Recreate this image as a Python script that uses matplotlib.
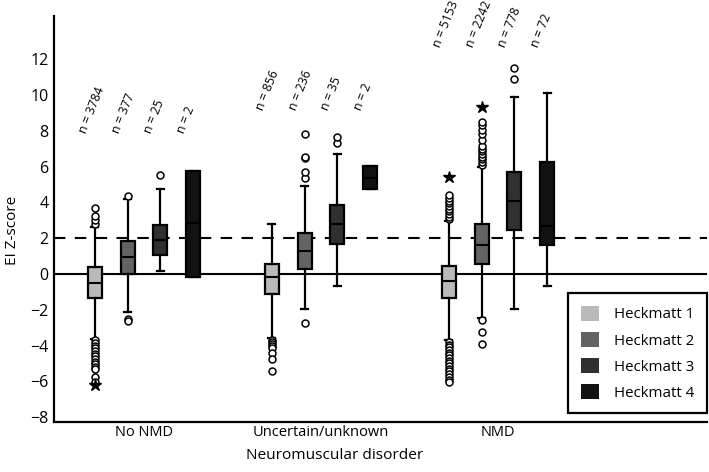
"""EI Z-score per Heckmatt grade, split by neuromuscular disorder status."""

import matplotlib

matplotlib.use("Agg")  # Headless rendering
import matplotlib.pyplot as plt
from matplotlib.patches import Patch

# ---- data ----
groups = ["No NMD", "Uncertain/unknown", "NMD"]
grades = ["Heckmatt 1", "Heckmatt 2", "Heckmatt 3", "Heckmatt 4"]
colors = ["#bababa", "#636363", "#303030", "#121212"]

n_counts = [[3784, 377, 25, 2], [856, 236, 35, 2], [5153, 2242, 778, 72]]

q1 = [[-1.36, 0.0, 1.06, -0.15], [-1.13, 0.30, 1.68, 4.73], [-1.32, 0.54, 2.46, 1.62]]
medians = [[-0.48, 0.97, 1.90, 2.83], [-0.19, 1.28, 2.79, 5.38], [-0.39, 1.64, 4.10, 2.70]]
q3 = [[0.37, 1.84, 2.74, 5.75], [0.56, 2.31, 3.85, 6.03], [0.47, 2.79, 5.72, 6.27]]
whisker_lo = [[-3.65, -2.14, 0.18, -0.15], [-3.60, -1.97, -0.65, 4.73], [-3.70, -2.48, -1.97, -0.67]]
whisker_hi = [[2.64, 4.20, 4.75, 5.75], [2.79, 4.93, 6.70, 6.03], [2.95, 6.00, 9.90, 10.09]]

fliers = [
    [
        [2.78, 3.02, 3.26, 3.67, -3.70, -3.85, -4.00, -4.15, -4.30, -4.45, -4.60,
         -4.75, -4.90, -5.05, -5.20, -5.30, -5.74, -6.01],
        [4.36, -2.50, -2.61],
        [5.53],
        [],
    ],
    [
        [-3.70, -3.80, -3.90, -4.00, -4.15, -4.43, -4.75, -5.42],
        [5.34, 5.72, 6.46, 6.55, 7.82, -2.72],
        [7.30, 7.67],
        [],
    ],
    [
        [3.05, 3.20, 3.35, 3.50, 3.65, 3.80, 3.95, 4.10, 4.25, 4.40,
         -3.80, -3.95, -4.10, -4.25, -4.40, -4.55, -4.70, -4.85, -5.00,
         -5.15, -5.30, -5.45, -5.60, -5.75, -5.90, -6.05],
        [6.10, 6.25, 6.40, 6.55, 6.70, 6.85, 7.00, 7.15, 7.50, 7.80, 8.05,
         8.30, 8.50, -2.57, -3.22, -3.93],
        [10.90, 11.50],
        [],
    ],
]

# extreme values drawn as stars: (group, grade, value)
extremes = [(0, 0, -6.20), (2, 0, 5.44), (2, 1, 9.35)]

# ---- layout ----
slot = 0.185
box_w = 0.079
label_y = [7.75, 9.05, 12.55]

fig = plt.figure(figsize=(7.09, 4.72), dpi=100)
plt.rcParams["font.family"] = ["Open Sans", "DejaVu Sans"]
ax = fig.add_axes([0.0762, 0.106, 0.921, 0.860])

ax.axhline(0, color="black", lw=1.5, zorder=1)
ax.axhline(2, color="black", lw=1.5, ls=(0, (5.5, 4.5)), zorder=1)

stats, positions, face = [], [], []
for g in range(len(groups)):
    for k in range(len(grades)):
        stats.append(dict(med=medians[g][k], q1=q1[g][k], q3=q3[g][k],
                          whislo=whisker_lo[g][k], whishi=whisker_hi[g][k],
                          fliers=fliers[g][k]))
        positions.append(g + (k - 1.5) * slot)
        face.append(colors[k])

bp = ax.bxp(stats, positions=positions, widths=box_w, capwidths=0.04,
            patch_artist=True, manage_ticks=False, zorder=3,
            boxprops=dict(edgecolor="black", linewidth=1.6),
            medianprops=dict(color="black", linewidth=1.5),
            whiskerprops=dict(color="black", linewidth=1.6),
            capprops=dict(color="black", linewidth=1.6),
            flierprops=dict(marker="o", markerfacecolor="white",
                            markeredgecolor="black", markersize=5,
                            markeredgewidth=1.1))
for patch, c in zip(bp["boxes"], face):
    patch.set_facecolor(c)

for g, k, v in extremes:
    ax.plot(g + (k - 1.5) * slot, v, marker="*", color="black",
            markersize=9, ls="none", zorder=4)

for g in range(len(groups)):
    for k in range(len(grades)):
        x = g + (k - 1.5) * slot - 0.035
        ax.text(x, label_y[g], f"n = {n_counts[g][k]}", rotation=68,
                rotation_mode="anchor", ha="left", va="bottom", fontsize=8.8)

ax.set_xlim(-0.508, 3.18)
ax.set_ylim(-8.27, 14.41)
ax.set_yticks(range(-8, 13, 2))
ax.set_xticks(range(len(groups)))
ax.set_xticklabels(groups)
ax.tick_params(length=0)
ax.tick_params(axis="x", pad=2, labelsize=10.5)
ax.tick_params(axis="y", pad=4, labelsize=11.5)
for side in ("top", "right"):
    ax.spines[side].set_visible(False)
for side in ("left", "bottom"):
    ax.spines[side].set_linewidth(1.6)

ax.set_ylabel("EI Z-score", fontsize=11)
ax.yaxis.set_label_coords(-0.052, 0.473)
ax.set_xlabel("Neuromuscular disorder", fontsize=11.1)
ax.xaxis.set_label_coords(0.429, -0.063)

handles = [Patch(facecolor=c, edgecolor="none") for c in colors]
leg = ax.legend(handles, grades, loc="upper right", fontsize=10.8,
                bbox_to_anchor=(0.997, 1 - 293 / 472),
                bbox_transform=fig.transFigure, borderaxespad=0,
                fancybox=False, edgecolor="black", framealpha=1,
                handlelength=1.2, handleheight=1.2, handletextpad=1.0,
                labelspacing=0.62, borderpad=0.85)
leg.get_frame().set_linewidth(1.6)

fig.savefig("out.png", dpi=100)
